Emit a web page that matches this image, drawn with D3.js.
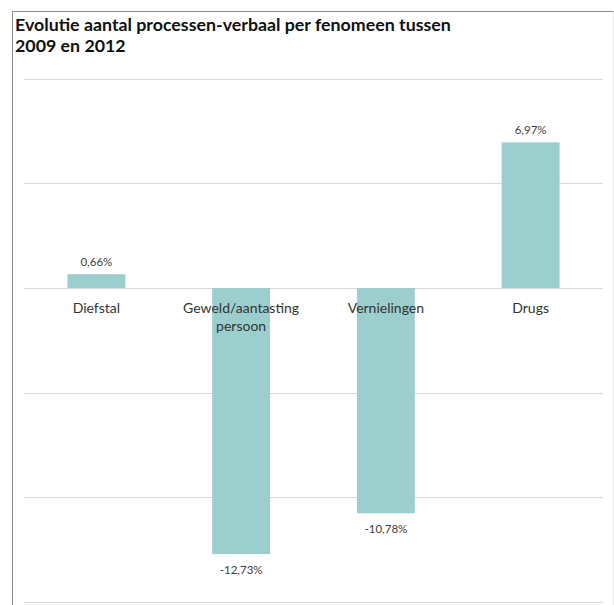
<!DOCTYPE html>
<html><head><meta charset="utf-8">
<script src="https://cdn.jsdelivr.net/npm/d3@7"></script>
<style>body{margin:0;background:#fff;}svg{display:block;}</style>
</head><body>
<script>
const categories = ["Diefstal", "Geweld/aantasting persoon", "Vernielingen", "Drugs"];
const labelLines = [["Diefstal"], ["Geweld/aantasting", "persoon"], ["Vernielingen"], ["Drugs"]];
const values = [0.66, -12.73, -10.78, 6.97];
const valueLabels = ["0,66%", "-12,73%", "-10,78%", "6,97%"];
const yTicks = [-15, -10, -5, 0, 5, 10];
const titleLines = ["Evolutie aantal processen-verbaal per fenomeen tussen", "2009 en 2012"];

const W = 614, H = 605;
const svg = d3.select("body").append("svg").attr("width", W).attr("height", H);
const font = "Lato, 'Open Sans', sans-serif";

// frame
svg.append("line").attr("x1", 12.5).attr("x2", 614).attr("y1", 11.5).attr("y2", 11.5).attr("stroke", "#8a8a8a").attr("stroke-width", 1);
svg.append("line").attr("x1", 12.5).attr("x2", 12.5).attr("y1", 11.5).attr("y2", H).attr("stroke", "#8a8a8a").attr("stroke-width", 1);
svg.append("line").attr("x1", 613.5).attr("x2", 613.5).attr("y1", 11.5).attr("y2", H).attr("stroke", "#eeeeee").attr("stroke-width", 1);

// title
svg.append("text").attr("x", 15).attr("y", 31)
  .attr("font-family", font).attr("font-weight", "bold").attr("font-size", 17.8).attr("fill", "#111")
  .selectAll("tspan").data(titleLines).join("tspan")
  .attr("x", 15).attr("dy", (d, i) => i === 0 ? 0 : 21).text(d => d);

const x = d3.scaleBand().domain(categories).range([24, 603]).paddingInner(0.6).paddingOuter(0.3);
const y = d3.scaleLinear().domain([-15, 10]).range([601.5, 79]);

// gridlines
svg.append("g").selectAll("line").data(yTicks).join("line")
  .attr("x1", 24).attr("x2", 603)
  .attr("y1", d => Math.round(y(d)) + 0.5).attr("y2", d => Math.round(y(d)) + 0.5)
  .attr("stroke", "#d9d9d9").attr("stroke-width", 1.2);

// bars
svg.append("g").selectAll("rect").data(values).join("rect")
  .attr("x", (d, i) => x(categories[i]))
  .attr("width", x.bandwidth())
  .attr("y", d => y(Math.max(0, d)))
  .attr("height", d => Math.abs(y(d) - y(0)))
  .attr("fill", "#9ccece");

// category labels
const cl = svg.append("g").selectAll("text").data(labelLines).join("text")
  .attr("font-family", font).attr("font-size", 14).attr("fill", "#333").attr("text-anchor", "middle")
  .attr("x", (d, i) => x(categories[i]) + x.bandwidth() / 2)
  .attr("y", 313);
cl.selectAll("tspan").data((d, i) => d.map(s => ({s, i}))).join("tspan")
  .attr("x", d => x(categories[d.i]) + x.bandwidth() / 2)
  .attr("dy", (d, j) => j === 0 ? 0 : 18).text(d => d.s);

// value labels
svg.append("g").selectAll("text").data(values).join("text")
  .attr("font-family", font).attr("font-size", 11.5).attr("fill", "#404040").attr("text-anchor", "middle")
  .attr("x", (d, i) => x(categories[i]) + x.bandwidth() / 2)
  .attr("y", d => d >= 0 ? y(d) - 8 : y(d) + 20)
  .text((d, i) => valueLabels[i]);
</script>
</body></html>
